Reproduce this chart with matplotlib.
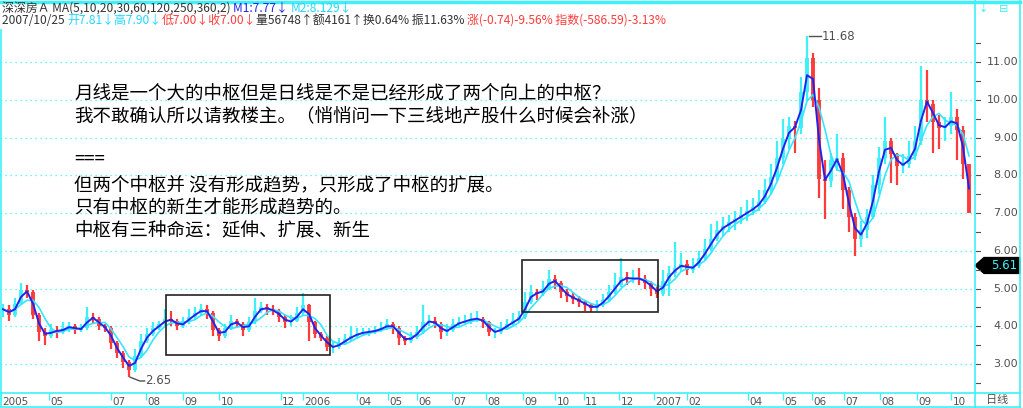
import matplotlib
matplotlib.use("Agg")
import matplotlib.pyplot as plt
import matplotlib.transforms as mtransforms
from matplotlib.patches import Rectangle, Polygon
import numpy as np
import pandas as pd

plt.rcParams['font.family'] = ['Noto Sans CJK SC', 'DejaVu Sans']

# roughly one bar per 4 trading days, 2005/01 .. 2007/10/25
closes = [4.45, 4.30, 4.60, 4.95, 4.90, 4.30, 3.85, 3.75, 3.90, 3.85,
          3.95, 4.00, 3.90, 3.95, 4.25, 4.20, 4.00, 3.95, 3.55, 3.30,
          3.05, 2.85, 3.20, 3.60, 3.80, 3.95, 4.05, 4.20, 4.15, 4.00,
          4.10, 4.25, 4.35, 4.45, 4.35, 3.90, 3.75, 3.95, 4.15, 4.05,
          3.90, 4.10, 4.40, 4.50, 4.45, 4.40, 4.25, 4.10, 4.15, 4.35,
          4.55, 4.10, 3.80, 3.70, 3.45, 3.45, 3.55, 3.65, 3.75, 3.80,
          3.85, 3.85, 3.90, 3.95, 4.05, 3.95, 3.70, 3.62, 3.72, 3.85,
          4.10, 4.15, 4.05, 3.85, 3.90, 4.05, 4.10, 4.15, 4.20, 4.20,
          4.10, 3.85, 3.85, 3.95, 4.05, 4.15, 4.25, 4.65, 4.90, 4.85,
          5.00, 5.25, 5.15, 4.90, 4.80, 4.72, 4.65, 4.55, 4.48, 4.55,
          4.70, 4.90, 5.10, 5.30, 5.25, 5.28, 5.25, 5.15, 5.00, 4.85,
          5.20, 5.40, 5.55, 5.65, 5.50, 5.60, 5.80, 6.05, 6.30, 6.55,
          6.65, 6.75, 6.85, 6.95, 7.05, 7.15, 7.30, 7.60, 7.95, 8.45,
          8.95, 9.30, 9.25, 10.20, 11.10, 10.00, 7.90, 7.85, 8.40, 8.45,
          7.60, 6.90, 6.30, 6.55, 6.90, 7.75, 8.45, 8.90, 8.55, 8.25,
          8.30, 8.50, 8.90, 10.00, 9.90, 9.40, 9.25, 9.30, 9.55, 9.20,
          8.30, 7.00]
highs = [4.60, 4.55, 4.75, 5.15, 5.10, 4.95, 4.35, 3.95, 4.05, 4.00,
         4.10, 4.10, 4.05, 4.05, 4.50, 4.35, 4.25, 4.05, 4.00, 3.60,
         3.35, 3.10, 3.40, 3.80, 3.95, 4.10, 4.15, 4.45, 4.40, 4.20,
         4.25, 4.45, 4.50, 4.60, 4.55, 4.40, 3.95, 4.05, 4.30, 4.20,
         4.10, 4.25, 4.75, 4.65, 4.60, 4.55, 4.45, 4.30, 4.30, 4.50,
         4.88, 4.60, 4.15, 3.85, 3.75, 3.60, 3.70, 3.80, 4.00, 3.95,
         3.95, 3.95, 4.00, 4.10, 4.20, 4.10, 4.00, 3.75, 3.85, 4.00,
         4.55, 4.30, 4.25, 4.10, 4.05, 4.20, 4.25, 4.30, 4.35, 4.40,
         4.25, 4.15, 3.95, 4.10, 4.20, 4.35, 4.40, 4.90, 5.10, 5.00,
         5.20, 5.50, 5.35, 5.20, 5.00, 4.90, 4.80, 4.70, 4.60, 4.70,
         4.85, 5.10, 5.40, 5.80, 5.45, 5.50, 5.55, 5.35, 5.20, 5.05,
         5.50, 5.60, 6.23, 5.95, 5.75, 5.80, 6.00, 6.30, 6.70, 6.80,
         6.90, 6.95, 7.05, 7.15, 7.35, 7.40, 7.60, 7.90, 8.30, 8.90,
         9.50, 9.55, 9.45, 10.60, 11.68, 11.25, 10.30, 8.40, 8.60, 9.10,
         8.60, 7.70, 7.00, 6.80, 7.10, 8.00, 8.75, 9.55, 9.00, 8.60,
         8.55, 8.90, 9.30, 10.90, 10.80, 10.00, 9.60, 9.55, 10.20, 9.75,
         9.30, 7.90]
lows = [4.25, 4.15, 4.25, 4.55, 4.75, 4.20, 3.60, 3.50, 3.70, 3.70,
        3.80, 3.85, 3.80, 3.85, 3.90, 4.05, 3.90, 3.85, 3.40, 3.15,
        2.90, 2.65, 2.80, 3.15, 3.55, 3.75, 3.90, 4.00, 4.00, 3.90,
        3.95, 4.05, 4.20, 4.30, 4.20, 3.75, 3.60, 3.70, 3.90, 3.95,
        3.75, 3.85, 4.05, 4.35, 4.30, 4.30, 4.10, 3.95, 4.00, 4.10,
        4.30, 3.60, 3.70, 3.60, 3.35, 3.30, 3.40, 3.50, 3.60, 3.70,
        3.75, 3.75, 3.80, 3.85, 3.90, 3.80, 3.50, 3.50, 3.55, 3.65,
        3.80, 4.00, 3.95, 3.65, 3.75, 3.85, 4.00, 4.05, 4.05, 4.10,
        3.95, 3.75, 3.70, 3.80, 3.90, 4.00, 4.10, 4.20, 4.60, 4.70,
        4.80, 4.95, 5.00, 4.75, 4.65, 4.60, 4.50, 4.40, 4.38, 4.40,
        4.50, 4.65, 4.85, 5.05, 5.10, 5.15, 5.10, 5.00, 4.80, 4.75,
        4.80, 4.80, 5.30, 5.45, 5.35, 5.40, 5.55, 5.75, 6.00, 6.25,
        6.40, 6.50, 6.55, 6.70, 6.80, 6.95, 7.05, 7.25, 7.50, 7.85,
        8.30, 8.70, 8.60, 9.10, 10.00, 9.80, 7.40, 6.85, 7.70, 8.10,
        7.10, 6.50, 5.85, 6.10, 6.35, 6.85, 7.50, 8.30, 7.80, 7.75,
        8.05, 8.20, 8.40, 8.80, 9.40, 8.60, 8.70, 8.90, 9.10, 8.40,
        7.90, 7.00]
opens = [closes[0]] + closes[:-1]

month_labels = ['2005', '05', '07', '08', '09', '10', '12', '2006', '04', '05',
                '06', '07', '08', '09', '10', '11', '12', '2007', '02', '04',
                '05', '06', '07', '08', '09', '10']
month_pos = [-0.3, 7.7, 18.0, 23.8, 30.0, 36.0, 46.3, 50.0, 59.0, 64.2,
             69.0, 74.8, 80.5, 86.7, 92.0, 96.8, 102.7, 108.5, 114.0, 124.2,
             130.0, 134.8, 140.2, 146.2, 152.3, 158.0]
price_ticks = [3, 4, 5, 6, 7, 8, 9, 10, 11]

note_lines = ['月线是一个大的中枢但是日线是不是已经形成了两个向上的中枢？',
              '我不敢确认所以请教楼主。（悄悄问一下三线地产股什么时候会补涨）',
              '===',
              '但两个中枢并 没有形成趋势，只形成了中枢的扩展。',
              '只有中枢的新生才能形成趋势的。',
              '中枢有三种命运：延伸、扩展、新生']
note_y = [95, 117, 160, 186, 208, 231]

W, H = 1023, 408
CY = '#3ff0f8'
RED = '#ff3b3b'
BLUE = '#2222ee'
GRAY = '#505050'

fig = plt.figure(figsize=(W / 100, H / 100), dpi=100)
fig.patch.set_facecolor('white')

# main price panel: x 0..975 px, y 30..393 px
ax = fig.add_axes([0, (H - 393) / H, 975 / W, 363 / H])
ax.set_xlim(-0.5, -0.5 + 975 / 6)
ax.set_ylim(3 - 29 / 37.75, 11 + 32 / 37.75)
ax.axis('off')

for p in price_ticks:
    ax.axhline(p, color=CY, lw=0.9, ls=(0, (1, 3)), zorder=0)

x = np.arange(len(closes))
up = np.array(closes) >= np.array(opens)
cols = np.where(up, CY, RED)
ax.vlines(x, lows, highs, colors=cols, lw=1.6, zorder=2)
ax.vlines(x, opens, closes, colors=cols, lw=2.8, zorder=2)

s = pd.Series(closes)
m1 = s.rolling(2, min_periods=1).mean()
m2 = s.rolling(4, min_periods=1).mean()
ax.plot(x, m2, color='#35e6ff', lw=1.2, zorder=3)
ax.plot(x, m1, color=BLUE, lw=1.4, zorder=4)

# zhongshu boxes
ax.add_patch(Rectangle((27.2, 3.24), 54.5 - 27.2, 4.83 - 3.24, fill=False,
                       ec='#222222', lw=1.2, zorder=5))
ax.add_patch(Rectangle((86.5, 4.38), 109.2 - 86.5, 5.76 - 4.38, fill=False,
                       ec='#222222', lw=1.2, zorder=5))

# min / max marks
li = int(np.argmin(lows))
hi = int(np.argmax(highs))
ax.plot([li + 0.2, li + 1.8, li + 2.6], [lows[li], lows[li] - 0.1, lows[li] - 0.1],
        color=GRAY, lw=1, zorder=5)
ax.text(li + 2.7, lows[li] - 0.1, f'{lows[li]:.2f}', color=GRAY, fontsize=8.5,
        va='center', ha='left', family='DejaVu Sans')
ax.plot([hi + 0.3, hi + 2.3], [highs[hi], highs[hi]], color=GRAY, lw=1, zorder=5)
ax.text(hi + 2.5, highs[hi], f'{highs[hi]:.2f}', color=GRAY, fontsize=8.5,
        va='center', ha='left', family='DejaVu Sans')

for t, yy in zip(note_lines, note_y):
    fig.text(74 / W, 1 - yy / H, t, fontsize=13.3, color='black', va='center', ha='left')

# right price scale
tr = mtransforms.blended_transform_factory(fig.transFigure, ax.transData)
for p in price_ticks:
    ax.text(1018 / W, p, f'{p:.2f}', transform=tr, ha='right', va='center',
            fontsize=8, color=GRAY, family='DejaVu Sans', clip_on=False)
for p in np.arange(2.5, 11.6, 0.5):
    ax.plot([976 / W, 980 / W], [p, p], transform=tr, color=GRAY, lw=0.8, clip_on=False)
tag = 5.61
ax.add_patch(Polygon([(975 / W, tag), (984 / W, tag + 0.21), (1020 / W, tag + 0.21),
                      (1020 / W, tag - 0.21), (984 / W, tag - 0.21)],
                     closed=True, transform=tr, fc='black', ec='black', clip_on=False))
ax.text(1017 / W, tag, f'{tag:.2f}', transform=tr, ha='right', va='center',
        fontsize=8.5, color=CY, family='DejaVu Sans', clip_on=False)

# date band
axb = fig.add_axes([0, 0, 975 / W, 15 / H])
axb.set_xlim(ax.get_xlim())
axb.set_ylim(0, 1)
axb.axis('off')
axb.vlines(month_pos, 0.55, 1.0, colors=CY, lw=1)
for lab, p in zip(month_labels, month_pos):
    axb.text(p + 0.25, 0.42, lab, fontsize=7.5, color=GRAY, va='center', ha='left',
             family='DejaVu Sans')
fig.text(997 / W, 1 - 400 / H, '日线', fontsize=8, color=GRAY, ha='center', va='center')

# frame lines
fl = dict(color=CY, lw=1.2, transform=fig.transFigure)
fig.add_artist(plt.Line2D([0, 1020 / W], [1 - 1.5 / H, 1 - 1.5 / H], lw=2.5, color=CY,
                          transform=fig.transFigure))
fig.add_artist(plt.Line2D([0, 1020 / W], [1 - 393 / H, 1 - 393 / H], **fl))
fig.add_artist(plt.Line2D([0, 1020 / W], [1 - 406.5 / H, 1 - 406.5 / H], **fl))
fig.add_artist(plt.Line2D([975 / W, 975 / W], [0, 1], **fl))
fig.add_artist(plt.Line2D([1020 / W, 1020 / W], [0, 1], **fl))
fig.add_artist(plt.Line2D([1 / W, 1 / W], [1 - 406 / H, 1 - 30 / H], **fl))
fig.text(983 / W, 1 - 9 / H, '⇣', fontsize=8, color=CY, ha='center', va='center',
         family='DejaVu Sans')
fig.text(1004 / W, 1 - 9 / H, '⊟', fontsize=8, color=CY, ha='center', va='center',
         family='DejaVu Sans')

# header, pieces of colored text laid end to end
renderer = fig.canvas.get_renderer()


def line(pieces, y, x0=2):
    xx = x0
    for txt, c in pieces:
        t = fig.text(xx / W, 1 - y / H, txt, fontsize=8.6, color=c, va='center', ha='left')
        bb = t.get_window_extent(renderer)
        xx = bb.x1


line([('深深房Ａ MA(5,10,20,30,60,120,250,360,2) ', '#333333'),
      ('M1:7.77↓ ', BLUE), ('M2:8.129↓', '#20d8ff')], 8)
line([('2007/10/25 ', '#333333'), ('开7.81↓高7.90↓', '#20d8ff'),
      ('低7.00↓收7.00↓', RED), ('量56748↑额4161↑换0.64% 振11.63% ', '#333333'),
      ('涨(-0.74)-9.56% 指数(-586.59)-3.13%', RED)], 20)

fig.savefig('out.png', dpi=100)
